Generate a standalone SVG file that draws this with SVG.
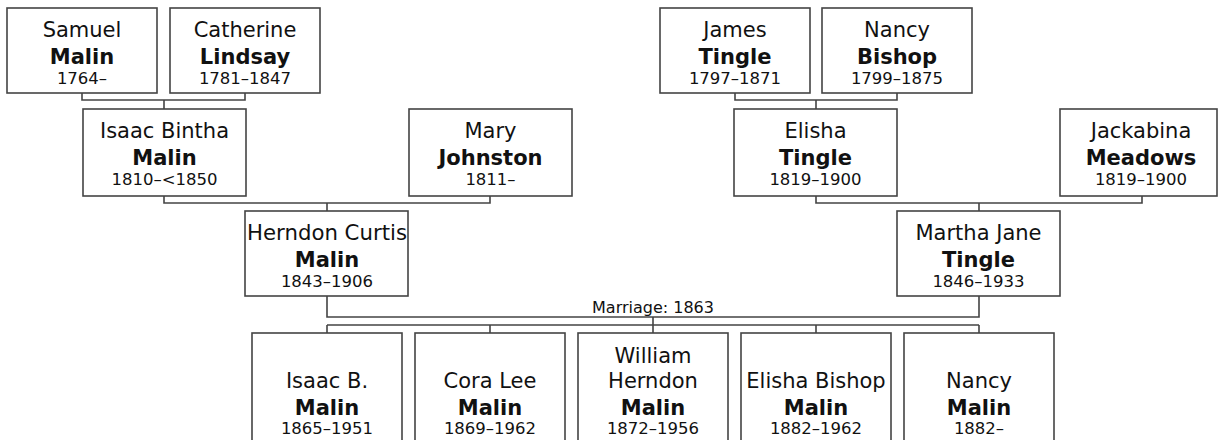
<svg xmlns="http://www.w3.org/2000/svg" width="1218" height="440" viewBox="0 0 1218 440">
<style>
.box{fill:#fff;stroke:#444;stroke-width:1.6}
.ln{fill:none;stroke:#444;stroke-width:1.6}
text{font-family:"DejaVu Sans","Liberation Sans",sans-serif;fill:#111;text-anchor:middle}
.g{font-size:21px}
.s{font-size:21px;font-weight:bold}
.d{font-size:16.5px}
.m{font-size:16px}
</style>
<rect width="1218" height="440" fill="#fff"/>
<g id="connectors">
<path class="ln" d="M82,93V100H245V93M164,100V109"/>
<path class="ln" d="M735,93V100H897V93M816,100V109"/>
<path class="ln" d="M164,196V203H490V196M327,203V211"/>
<path class="ln" d="M816,196V203H1142V196M979,203V211"/>
<path class="ln" d="M327,296V317H979V296M653,317V325M327,325H979M327,325V333M490,325V333M653,325V333M816,325V333M979,325V333"/>
<text class="m" x="653" y="313">Marriage: 1863</text>
</g>
<g id="samuel">
<rect class="box" x="7" y="8" width="150" height="85"/>
<text class="g" x="82" y="37">Samuel</text><text class="s" x="82" y="64">Malin</text><text class="d" x="82" y="84">1764–</text>
</g>
<g id="catherine">
<rect class="box" x="170" y="8" width="150" height="85"/>
<text class="g" x="245" y="37">Catherine</text><text class="s" x="245" y="64">Lindsay</text><text class="d" x="245" y="84">1781–1847</text>
</g>
<g id="james">
<rect class="box" x="660" y="8" width="150" height="85"/>
<text class="g" x="735" y="37">James</text><text class="s" x="735" y="64">Tingle</text><text class="d" x="735" y="84">1797–1871</text>
</g>
<g id="nancy-bishop">
<rect class="box" x="822" y="8" width="150" height="85"/>
<text class="g" x="897" y="37">Nancy</text><text class="s" x="897" y="64">Bishop</text><text class="d" x="897" y="84">1799–1875</text>
</g>
<g id="isaac-bintha">
<rect class="box" x="83" y="109" width="163" height="87"/>
<text class="g" x="164.5" y="138">Isaac Bintha</text><text class="s" x="164.5" y="165">Malin</text><text class="d" x="164.5" y="185">1810–&lt;1850</text>
</g>
<g id="mary">
<rect class="box" x="409" y="109" width="163" height="87"/>
<text class="g" x="490.5" y="138">Mary</text><text class="s" x="490.5" y="165">Johnston</text><text class="d" x="490.5" y="185">1811–</text>
</g>
<g id="elisha">
<rect class="box" x="734" y="109" width="163" height="87"/>
<text class="g" x="815.5" y="138">Elisha</text><text class="s" x="815.5" y="165">Tingle</text><text class="d" x="815.5" y="185">1819–1900</text>
</g>
<g id="jackabina">
<rect class="box" x="1060" y="109" width="157" height="87"/>
<text class="g" x="1141" y="138">Jackabina</text><text class="s" x="1141" y="165">Meadows</text><text class="d" x="1141" y="185">1819–1900</text>
</g>
<g id="herndon">
<rect class="box" x="245" y="211" width="163" height="85"/>
<text class="g" x="327" y="240" textLength="160" lengthAdjust="spacingAndGlyphs">Herndon Curtis</text><text class="s" x="327" y="267">Malin</text><text class="d" x="327" y="287">1843–1906</text>
</g>
<g id="martha">
<rect class="box" x="897" y="211" width="163" height="85"/>
<text class="g" x="978.5" y="240">Martha Jane</text><text class="s" x="978.5" y="267">Tingle</text><text class="d" x="978.5" y="287">1846–1933</text>
</g>
<g id="isaac-b">
<rect class="box" x="252" y="333" width="150" height="130"/>
<text class="g" x="327" y="388">Isaac B.</text><text class="s" x="327" y="415">Malin</text><text class="d" x="327" y="434">1865–1951</text>
</g>
<g id="cora">
<rect class="box" x="415" y="333" width="150" height="130"/>
<text class="g" x="490" y="388">Cora Lee</text><text class="s" x="490" y="415">Malin</text><text class="d" x="490" y="434">1869–1962</text>
</g>
<g id="william">
<rect class="box" x="578" y="333" width="150" height="130"/>
<text class="g" x="653" y="363">William</text><text class="g" x="653" y="388">Herndon</text><text class="s" x="653" y="415">Malin</text><text class="d" x="653" y="434">1872–1956</text>
</g>
<g id="elisha-bishop">
<rect class="box" x="741" y="333" width="150" height="130"/>
<text class="g" x="816" y="388">Elisha Bishop</text><text class="s" x="816" y="415">Malin</text><text class="d" x="816" y="434">1882–1962</text>
</g>
<g id="nancy">
<rect class="box" x="904" y="333" width="150" height="130"/>
<text class="g" x="979" y="388">Nancy</text><text class="s" x="979" y="415">Malin</text><text class="d" x="979" y="434">1882–</text>
</g>
</svg>
